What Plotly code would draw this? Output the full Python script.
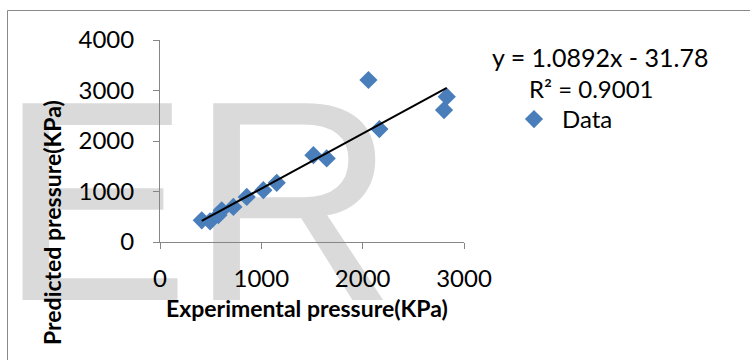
import plotly.graph_objects as go

# ---- data ----
exp_pressure = [412, 494, 576, 609, 724, 856, 1020, 1152, 1514, 1645, 2057, 2165, 2830, 2803]
pred_pressure = [430, 410, 530, 629, 695, 893, 1026, 1171, 1720, 1654, 3208, 2236, 2877, 2613]
slope = 1.0892
intercept = -31.78
r_squared = 0.9001
x_ticks = [0, 1000, 2000, 3000]
y_ticks = [0, 1000, 2000, 3000, 4000]

# ---- layout geometry ----
W, H = 750, 360
ML, MR, MT, MB = 160, 286, 40, 118
PW, PH = W - ML - MR, H - MT - MB
XR = [0, 3000]
YR = [0, 4000]

def px_x(p):  # pixel x -> paper
    return (p - ML) / PW

def px_y(p):  # pixel y -> paper
    return (H - MB - p) / PH

def px_dx(p):  # pixel x -> data x
    return XR[0] + (p - ML) / PW * (XR[1] - XR[0])

def px_dy(p):  # pixel y -> data y
    return YR[0] + (H - MB - p) / PH * (YR[1] - YR[0])

FONT = "Lato"
BLUE = "#4a7ebb"
AXIS = "#868686"
WM_SIZE = 286

fig = go.Figure()

# watermark "ER" (decorative, behind data); anchored at its centre which lies inside the axes range
fig.add_trace(go.Scatter(
    x=[px_dx(197.7)], y=[px_dy(300 - 0.25 * WM_SIZE)],
    mode="text", text=["ER"], textposition="middle center",
    textfont=dict(family="Liberation Sans", size=WM_SIZE, color="#dadada"),
    cliponaxis=False, hoverinfo="skip", showlegend=False,
))

fig.add_trace(go.Scatter(
    x=exp_pressure, y=pred_pressure, mode="markers", name="Data",
    marker=dict(symbol="diamond", size=14, color=BLUE),
    cliponaxis=False,
))

xs = [min(exp_pressure), max(exp_pressure)]
fig.add_trace(go.Scatter(
    x=xs, y=[slope * v + intercept for v in xs], mode="lines",
    line=dict(color="black", width=2), showlegend=False, hoverinfo="skip",
    cliponaxis=False,
))

axis_common = dict(
    showgrid=False, zeroline=False, showline=True, linecolor=AXIS, linewidth=1,
    ticks="outside", ticklen=6, tickcolor=AXIS, tickwidth=1, automargin=False,
    tickfont=dict(family=FONT, size=24, color="black"),
)
fig.update_xaxes(range=XR, tickvals=x_ticks, ticktext=[str(v) for v in x_ticks],
                 ticklabelstandoff=9, **axis_common)
fig.update_yaxes(range=YR, tickvals=y_ticks, ticktext=[str(v) for v in y_ticks],
                 ticklabelstandoff=14, **axis_common)

eq_text = f"y = {slope}x - {abs(intercept)}"
fig.add_annotation(text=eq_text, xref="paper", yref="paper", x=px_x(600), y=px_y(57),
                   xanchor="center", yanchor="middle", showarrow=False,
                   font=dict(family=FONT, size=25, color="black"))
fig.add_annotation(text=f"R² = {r_squared:.4f}", xref="paper", yref="paper", x=px_x(591), y=px_y(88),
                   xanchor="center", yanchor="middle", showarrow=False,
                   font=dict(family=FONT, size=24, color="black"))
fig.add_annotation(text="<b>Experimental pressure(KPa)</b>", xref="paper", yref="paper",
                   x=px_x(307), y=px_y(308), xanchor="center", yanchor="middle", showarrow=False,
                   font=dict(family=FONT, size=23, color="black"))
fig.add_annotation(text="<b>Predicted pressure(KPa)</b>", xref="paper", yref="paper",
                   x=px_x(52), y=px_y(223), xanchor="center", yanchor="middle", showarrow=False,
                   textangle=-90, font=dict(family=FONT, size=23, color="black"))

# chart frame
fig.add_shape(type="rect", xref="paper", yref="paper",
              x0=px_x(7.5), x1=px_x(W + 10), y0=px_y(10.5), y1=px_y(H + 10),
              line=dict(color="#898989", width=1), fillcolor="rgba(0,0,0,0)")

fig.update_layout(
    width=W, height=H, margin=dict(l=ML, r=MR, t=MT, b=MB),
    paper_bgcolor="white", plot_bgcolor="white",
    showlegend=True,
    legend=dict(x=px_x(506), y=px_y(97), xanchor="left", yanchor="top",
                font=dict(family=FONT, size=24, color="black"),
                bgcolor="rgba(0,0,0,0)", borderwidth=0, itemwidth=46),
)

fig.write_html("out.html", config={"displayModeBar": False},
               post_script="document.body.style.margin='0';")
